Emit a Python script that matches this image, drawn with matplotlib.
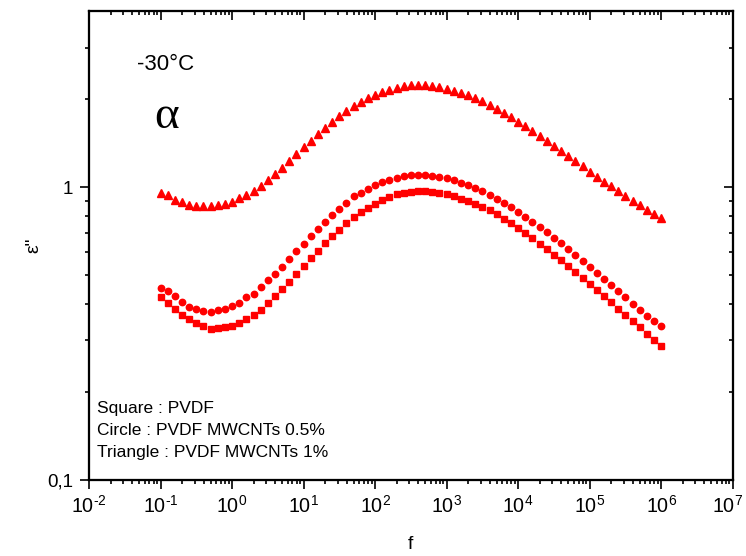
import numpy as np
import matplotlib
matplotlib.use("Agg")
import matplotlib.pyplot as plt
import matplotlib.transforms as mtransforms
from matplotlib.ticker import FixedLocator, FixedFormatter, LogLocator, NullFormatter

plt.rcParams['font.family'] = ['Liberation Sans', 'DejaVu Sans']
plt.rcParams['mathtext.fontset'] = 'custom'
plt.rcParams['mathtext.rm'] = 'Liberation Sans'
plt.rcParams['mathtext.it'] = 'Liberation Sans:italic'

# frequency grid: 10 points per decade from 1e-1 to 1e6
freq_exp = [-1.0 + i / 10 for i in range(71)]
freq = [10 ** e for e in freq_exp]

# dielectric loss, PVDF (squares)
eps_pvdf = [
    0.423, 0.402, 0.383, 0.366, 0.354, 0.343, 0.335, 0.329, 0.331, 0.334,
    0.335, 0.343, 0.356, 0.365, 0.382, 0.401, 0.425, 0.448, 0.475, 0.505,
    0.538, 0.571, 0.607, 0.643, 0.681, 0.717, 0.756, 0.794, 0.822, 0.851,
    0.880, 0.908, 0.927, 0.946, 0.959, 0.967, 0.969, 0.969, 0.964, 0.959,
    0.950, 0.935, 0.915, 0.899, 0.880, 0.857, 0.835, 0.808, 0.780, 0.752,
    0.725, 0.699, 0.670, 0.642, 0.616, 0.588, 0.563, 0.538, 0.514, 0.491,
    0.468, 0.445, 0.425, 0.405, 0.385, 0.367, 0.349, 0.332, 0.315, 0.300,
    0.288,
]

# dielectric loss, PVDF + 0.5% MWCNTs (circles)
eps_05 = [
    0.452, 0.441, 0.424, 0.405, 0.391, 0.385, 0.379, 0.375, 0.382, 0.385,
    0.392, 0.402, 0.421, 0.433, 0.457, 0.482, 0.506, 0.535, 0.570, 0.607,
    0.642, 0.681, 0.721, 0.762, 0.805, 0.844, 0.885, 0.937, 0.957, 0.987,
    1.021, 1.040, 1.062, 1.079, 1.094, 1.099, 1.102, 1.099, 1.096, 1.088,
    1.077, 1.057, 1.038, 1.019, 0.995, 0.969, 0.943, 0.914, 0.885, 0.853,
    0.824, 0.790, 0.762, 0.732, 0.702, 0.672, 0.644, 0.614, 0.588, 0.562,
    0.532, 0.509, 0.485, 0.463, 0.441, 0.421, 0.400, 0.382, 0.364, 0.348,
    0.335,
]

# dielectric loss, PVDF + 1% MWCNTs (triangles)
eps_1 = [
    0.957, 0.939, 0.906, 0.889, 0.873, 0.861, 0.861, 0.861, 0.868, 0.880,
    0.894, 0.917, 0.942, 0.972, 1.013, 1.060, 1.108, 1.165, 1.227, 1.296,
    1.369, 1.440, 1.517, 1.596, 1.672, 1.753, 1.827, 1.890, 1.956, 2.013,
    2.072, 2.122, 2.155, 2.189, 2.212, 2.229, 2.236, 2.229, 2.219, 2.194,
    2.172, 2.138, 2.100, 2.061, 2.013, 1.965, 1.912, 1.851, 1.794, 1.734,
    1.676, 1.615, 1.553, 1.497, 1.440, 1.380, 1.327, 1.276, 1.227, 1.179,
    1.131, 1.088, 1.046, 1.006, 0.969, 0.932, 0.899, 0.868, 0.839, 0.811,
    0.788,
]

x_exponents = list(range(-2, 8))
x_major = [10.0 ** e for e in x_exponents]
x_labels = [r'$\mathdefault{10^{\text{%d}}}$' % e for e in x_exponents]
y_major = [0.1, 1.0]
y_labels = ['0,1', '1']
y_minor = [0.2, 0.3, 0.4, 0.5, 0.6, 0.7, 0.8, 0.9, 2.0, 3.0]

legend_lines = ['Square : PVDF', 'Circle : PVDF MWCNTs 0.5%', 'Triangle : PVDF MWCNTs 1%']

RED = '#ff0000'
XLIM = (1e-2, 1e7)
YLIM = (0.1, 4.0)

fig = plt.figure(figsize=(7.46, 5.56), dpi=100)
ax = fig.add_axes([0.1193, 0.1367, 0.8629, 0.8435])

ax.plot(freq, eps_pvdf, ls='none', marker='s', ms=4.0, color=RED, mec=RED)
ax.plot(freq, eps_05, ls='none', marker='o', ms=4.6, color=RED, mec=RED)
ax.plot(freq, eps_1, ls='none', marker='^', ms=5.3, color=RED, mec=RED)

ax.set_xscale('log')
ax.set_yscale('log')
ax.set_xlim(*XLIM)
ax.set_ylim(*YLIM)

ax.xaxis.set_major_locator(FixedLocator(x_major))
ax.xaxis.set_major_formatter(FixedFormatter(x_labels))
ax.xaxis.set_minor_locator(LogLocator(base=10, subs=np.arange(2, 10)))
ax.xaxis.set_minor_formatter(NullFormatter())
ax.yaxis.set_major_locator(FixedLocator(y_major))
ax.yaxis.set_major_formatter(FixedFormatter(y_labels))
ax.yaxis.set_minor_locator(FixedLocator(y_minor))
ax.yaxis.set_minor_formatter(NullFormatter())

ax.tick_params(which='both', direction='out', top=False, right=False, width=1.2, labelsize=13.5)
ax.tick_params(axis='x', labelsize=14.2)
ax.tick_params(which='major', length=6.5)
ax.tick_params(which='minor', length=3.2)
ax.tick_params(axis='x', which='major', pad=4)
ax.tick_params(axis='y', which='major', pad=5)

for s in ax.spines.values():
    s.set_linewidth(1.5)

# inward ticks on the top and right edges
axt = ax.twiny()
axt.set_xscale('log')
axt.set_xlim(*XLIM)
axt.xaxis.set_major_locator(FixedLocator(x_major))
axt.xaxis.set_minor_locator(LogLocator(base=10, subs=np.arange(2, 10)))
axt.xaxis.set_major_formatter(NullFormatter())
axt.xaxis.set_minor_formatter(NullFormatter())
axt.tick_params(which='both', direction='in', width=1.2)
axt.tick_params(which='major', length=6.5)
axt.tick_params(which='minor', length=3.2)

axr = ax.twinx()
axr.set_yscale('log')
axr.set_ylim(*YLIM)
axr.yaxis.set_major_locator(FixedLocator(y_major))
axr.yaxis.set_minor_locator(FixedLocator(y_minor))
axr.yaxis.set_major_formatter(NullFormatter())
axr.yaxis.set_minor_formatter(NullFormatter())
axr.tick_params(which='both', direction='in', width=1.2)
axr.tick_params(which='major', length=6.5)
axr.tick_params(which='minor', length=3.2)

for a in (axt, axr):
    for s in a.spines.values():
        s.set_linewidth(1.5)

ax.set_xlabel('f', fontsize=14, labelpad=14)
ax.set_ylabel('ε"', fontsize=14, labelpad=3)

ax.text(0.075, 0.885, '-30°C', transform=ax.transAxes, fontsize=16, ha='left', va='center')
ax.text(0.121, 0.775, 'α', transform=ax.transAxes, fontsize=34, ha='center', va='center',
        family=['Liberation Serif', 'DejaVu Serif'])

for k, line in enumerate(legend_lines):
    ax.text(0.0125, 0.152 - k * 0.047, line, transform=ax.transAxes, fontsize=12.5,
            ha='left', va='center')

# nudge the last x tick label so it stays inside the canvas
fig.canvas.draw()
last = ax.xaxis.get_major_ticks()[-1].label1
last.set_transform(last.get_transform()
                   + mtransforms.ScaledTranslation(-4 / 72, 0, fig.dpi_scale_trans))

fig.savefig('out.png', dpi=100)
